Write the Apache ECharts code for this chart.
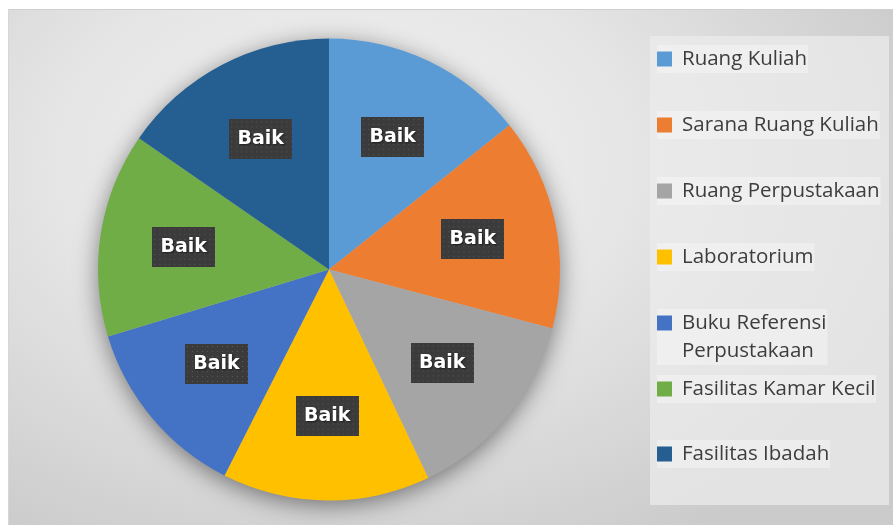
<!DOCTYPE html>
<html>
<head>
<meta charset="utf-8">
<script src="https://cdn.jsdelivr.net/npm/echarts@6/dist/echarts.min.js"></script>
<style>
  html, body { margin: 0; padding: 0; background: #fff; }
  #bg {
    position: absolute; left: 8px; top: 9px; width: 885px; height: 516px;
    border-top: 1px solid #cfcfcf; border-left: 1px solid #d6d6d6; box-sizing: border-box;
    background: radial-gradient(ellipse 70% 85% at 38% 30%, #f3f3f3 0%, #e6e6e6 45%, #cbcbcb 100%);
  }
  #chart { position: absolute; left: 0; top: 0; width: 893px; height: 525px; }
</style>
</head>
<body>
<div id="bg"></div>
<div id="chart"></div>
<script>
  // ---- data ----
  const categories = ['Ruang Kuliah', 'Sarana Ruang Kuliah', 'Ruang Perpustakaan', 'Laboratorium',
    'Buku Referensi Perpustakaan', 'Fasilitas Kamar Kecil', 'Fasilitas Ibadah'];
  const values = [3.21, 3.34, 3.11, 3.27, 2.89, 3.22, 3.46];
  const ratings = ['Baik', 'Baik', 'Baik', 'Baik', 'Baik', 'Baik', 'Baik'];
  const colors = ['#5B9BD5', '#ED7D31', '#A5A5A5', '#FFC000', '#4472C4', '#70AD47', '#255E91'];

  // dotted dark tile used behind the data labels
  function dotTile(w, h) {
    const c = document.createElement('canvas');
    c.width = w; c.height = h;
    const g = c.getContext('2d');
    g.fillStyle = '#3b3b3b';
    g.fillRect(0, 0, w, h);
    g.fillStyle = '#585858';
    for (let y = 2; y < h; y += 5) for (let x = 2; x < w; x += 5) g.fillRect(x, y, 1, 1);
    return c;
  }
  const tile = dotTile(63, 40);

  const CX = 329, CY = 269.5, R = 231;
  const pieData = categories.map((n, i) => ({ name: n, value: values[i], itemStyle: { color: colors[i] } }));

  // one legend per entry so rows keep an even pitch even where a name wraps
  const legendTops = [45, 111, 177, 243, 309, 375, 440];
  const legends = categories.map((n, i) => {
    const wrap = n === 'Buku Referensi Perpustakaan';
    return {
      data: [wrap ? { name: n, icon: 'path://M0,0H15V15H0Z M0,43L0.01,43Z' } : { name: n, icon: 'rect' }],
      orient: 'vertical',
      left: 657, top: legendTops[i],
      padding: 0,
      itemWidth: 15, itemHeight: wrap ? 43 : 15,
      backgroundColor: 'rgba(246,246,246,0.5)',
      selectedMode: false,
      formatter: wrap ? () => 'Buku Referensi\nPerpustakaan' : undefined,
      textStyle: {
        color: '#3d3d3d', fontFamily: 'Open Sans, sans-serif', fontSize: 20.5,
        lineHeight: 28, padding: [0, 1, 0, 5]
      }
    };
  });

  const chart = echarts.init(document.getElementById('chart'), null, { renderer: 'canvas' });
  chart.setOption({
    animation: false,
    backgroundColor: 'transparent',
    color: colors,
    legend: legends,
    graphic: [{
      type: 'rect', left: 650, top: 36, z: -10,
      shape: { width: 239, height: 469 },
      style: { fill: 'rgba(236,236,236,0.7)' }
    }],
    series: [
      { // soft drop shadow under the whole disc
        type: 'pie', silent: true, center: [CX, CY], radius: [0, R - 1], z: 0,
        label: { show: false }, labelLine: { show: false },
        itemStyle: { color: '#bbb', shadowBlur: 24, shadowOffsetY: 5, shadowColor: 'rgba(0,0,0,0.5)' },
        data: [{ name: '_shadow', value: 1 }]
      },
      {
        type: 'pie', silent: true, center: [CX, CY], radius: [0, R], startAngle: 90, clockwise: true, z: 2,
        label: { show: false }, labelLine: { show: false },
        itemStyle: { borderWidth: 0 },
        data: pieData
      },
      { // label carrier: inside labels sit at half of this radius
        type: 'pie', silent: true, center: [CX, CY], radius: [0, 288], startAngle: 90, clockwise: true, z: 3,
        itemStyle: { color: 'rgba(0,0,0,0)' },
        labelLine: { show: false },
        label: {
          show: true, position: 'inside',
          formatter: p => ratings[p.dataIndex],
          color: '#fff', fontFamily: 'DejaVu Sans, sans-serif', fontWeight: 'bold', fontSize: 19,
          width: 49, height: 22, align: 'center', verticalAlign: 'middle', lineHeight: 22,
          padding: [9, 7],
          backgroundColor: { image: tile },
          shadowColor: 'rgba(0,0,0,0.55)', shadowBlur: 5, shadowOffsetX: 3, shadowOffsetY: 3,
          textShadowColor: 'rgba(0,0,0,0.5)', textShadowBlur: 2, textShadowOffsetX: 1, textShadowOffsetY: 1
        },
        data: categories.map((n, i) => ({ name: n, value: values[i] }))
      }
    ]
  });
</script>
</body>
</html>
